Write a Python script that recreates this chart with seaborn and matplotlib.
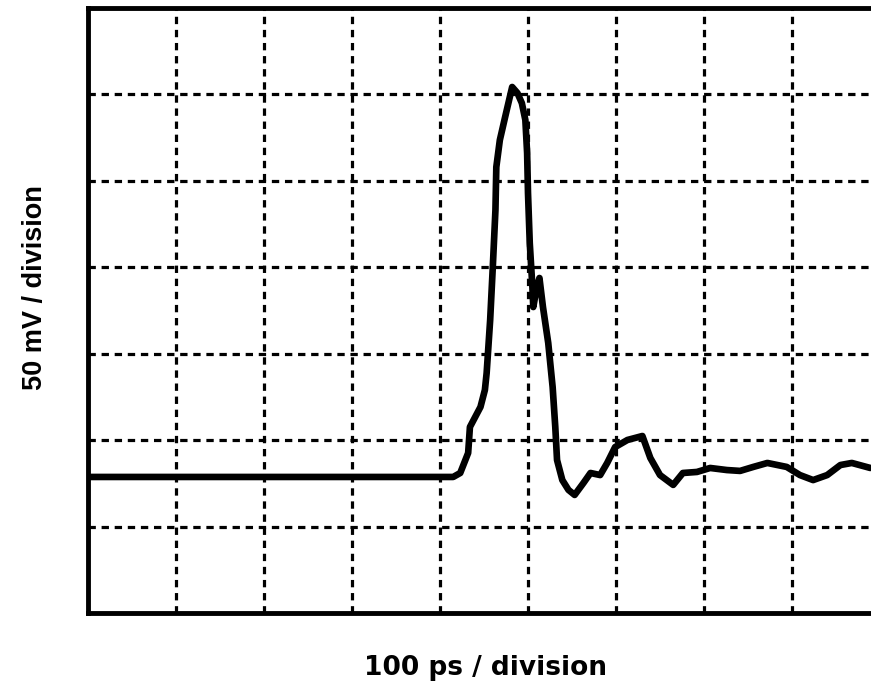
import numpy as np
import pandas as pd
import matplotlib
matplotlib.use("Agg")
import matplotlib.pyplot as plt
import seaborn as sns

# oscilloscope trace (time in ps, amplitude in mV)
time_ps = [0, 415, 423, 432, 434, 440, 446, 451, 453, 457, 460, 463, 464,
           468, 474, 482, 488, 493, 497, 499, 500, 502, 505, 506, 510, 513,
           517, 523, 528, 531, 533, 539, 546, 553, 563, 571, 582, 590, 599,
           613, 630, 639, 650, 665, 676, 692, 707, 726, 741, 756, 772, 794,
           809, 824, 840, 855, 868, 889]
volt_mv = [78.7, 78.7, 81.0, 92.6, 107.6, 113.4, 119.2, 129.0, 138.8, 169.5,
           200.2, 233.1, 258.0, 273.6, 286.9, 304.3, 300.8, 295.0, 285.2,
           266.1, 243.0, 214.0, 188.6, 177.0, 188.6, 193.8, 177.0, 156.2,
           130.7, 107.6, 88.5, 76.9, 71.2, 68.3, 75.2, 81.0, 79.8, 86.8, 96.0,
           100.1, 102.4, 89.7, 79.8, 74.1, 81.0, 81.6, 83.9, 82.7, 82.2, 84.5,
           86.8, 84.5, 79.8, 76.9, 79.8, 85.6, 86.8, 83.9]

PS_PER_DIV = 100
MV_PER_DIV = 50
x_label = "100 ps / division"
y_label = "50 mV / division"

df = pd.DataFrame({"t": time_ps, "v": volt_mv})

sns.set_style("white")
plt.rcParams["font.family"] = ["Liberation Sans", "DejaVu Sans"]

W, H = 871, 695
fig = plt.figure(figsize=(W / 100, H / 100), dpi=100)
ax = fig.add_axes([88 / W, (H - 613) / H, (W - 88) / W, (613 - 8) / H])

line = sns.lineplot(data=df, x="t", y="v", ax=ax, color="black", linewidth=4.8,
                    sort=False, estimator=None)
line.lines[0].set_solid_joinstyle("round")
line.lines[0].set_solid_capstyle("round")

ax.set_xlim(0, (W - 88) / 0.88)
ax.set_ylim(0, 7 * MV_PER_DIV)
ax.set_xticks(np.arange(PS_PER_DIV, 900, PS_PER_DIV))
ax.set_yticks(np.arange(MV_PER_DIV, 7 * MV_PER_DIV, MV_PER_DIV))
ax.tick_params(length=0, labelbottom=False, labelleft=False)
ax.grid(True, color="black", linewidth=2.3, linestyle=(0, (2.3, 1.8)))
ax.set_axisbelow(True)

for side in ["left", "bottom", "top"]:
    ax.spines[side].set_linewidth(3.5)
    ax.spines[side].set_color("black")
ax.spines["right"].set_visible(False)

ax.set_xlabel("")
ax.set_ylabel("")
# the scanned labels are stretched sideways, so the wider DejaVu bold fits the bottom one
fig.text(485 / W, 1 - 675 / H, x_label, ha="center", va="baseline",
         fontsize=19, fontweight="bold", color="black", family="DejaVu Sans")
fig.text(35 / W, 1 - 288 / H, y_label, ha="center", va="center",
         rotation=90, fontsize=19.5, fontweight="bold", color="black")

fig.savefig("out.png", dpi=100)
